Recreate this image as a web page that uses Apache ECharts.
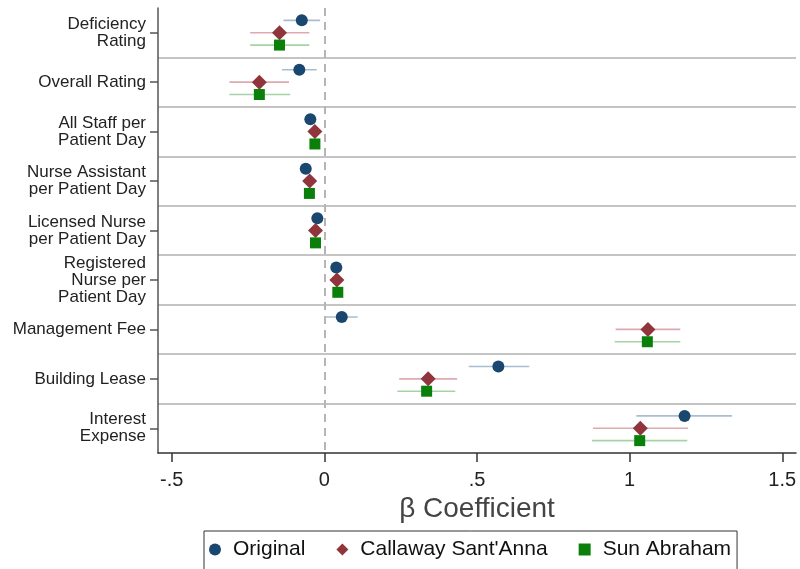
<!DOCTYPE html>
<html>
<head>
<meta charset="utf-8">
<script src="https://cdn.jsdelivr.net/npm/echarts@6/dist/echarts.min.js"></script>
<style>
html,body{margin:0;padding:0;background:#fff;}
#chart{width:800px;height:569px;}
</style>
</head>
<body>
<div id="chart"></div>
<script>
const categories = [
  "Deficiency\nRating",
  "Overall Rating",
  "All Staff per\nPatient Day",
  "Nurse Assistant\nper Patient Day",
  "Licensed Nurse\nper Patient Day",
  "Registered\nNurse per\nPatient Day",
  "Management Fee",
  "Building Lease",
  "Interest\nExpense"
];
const seriesNames = ["Original", "Callaway Sant'Anna", "Sun Abraham"];

const origEst = [-0.074, -0.082, -0.046, -0.061, -0.023, 0.039, 0.057, 0.570, 1.180];
const origLo  = [-0.134, -0.139, -0.064, -0.076, -0.037, 0.025, 0.002, 0.473, 1.022];
const origHi  = [-0.014, -0.025, -0.028, -0.046, -0.009, 0.053, 0.109, 0.671, 1.335];

const csEst = [-0.147, -0.213, -0.031, -0.048, -0.029, 0.041, 1.060, 0.340, 1.035];
const csLo  = [-0.243, -0.311, -0.046, -0.062, -0.043, 0.027, 0.954, 0.245, 0.880];
const csHi  = [-0.049, -0.116, -0.016, -0.034, -0.015, 0.055, 1.166, 0.435, 1.191];

const saEst = [-0.147, -0.213, -0.031, -0.049, -0.029, 0.044, 1.058, 0.335, 1.033];
const saLo  = [-0.243, -0.311, -0.046, -0.063, -0.043, 0.030, 0.951, 0.239, 0.877];
const saHi  = [-0.049, -0.112, -0.016, -0.035, -0.015, 0.058, 1.166, 0.429, 1.189];

const xTickValues = [-0.5, 0, 0.5, 1, 1.5];
const xTickLabels = ["-.5", "0", ".5", "1", "1.5"];

const FONT = "'Liberation Sans', Arial, sans-serif";
const colors = ["#1a476f", "#90353b", "#0a800a"];
const ciColors = ["#a9bdd1", "#dcaab0", "#a6d3a6"];
const offsets = [0.25, 0.5, 0.75];
const symbols = ["circle", "diamond", "rect"];
const symbolSizes = [12, 15, 11];

const groups = [
  {est: origEst, lo: origLo, hi: origHi},
  {est: csEst, lo: csLo, hi: csHi},
  {est: saEst, lo: saLo, hi: saHi}
];

const series = [];
groups.forEach((g, k) => {
  series.push({
    name: seriesNames[k] + " CI",
    type: "custom",
    xAxisIndex: 0,
    yAxisIndex: 1,
    z: 2,
    silent: true,
    renderItem: function (params, api) {
      const y = api.value(2);
      const p1 = api.coord([api.value(0), y]);
      const p2 = api.coord([api.value(1), y]);
      return {
        type: "line",
        shape: {x1: p1[0], y1: p1[1], x2: p2[0], y2: p2[1]},
        style: {stroke: ciColors[k], lineWidth: 1.6}
      };
    },
    encode: {x: [0, 1], y: 2},
    data: g.lo.map((v, i) => [v, g.hi[i], i + offsets[k]])
  });
});
groups.forEach((g, k) => {
  const s = {
    name: seriesNames[k],
    type: "scatter",
    xAxisIndex: 0,
    yAxisIndex: 1,
    z: 3 + k,
    symbol: symbols[k],
    symbolSize: symbolSizes[k],
    itemStyle: {color: colors[k], opacity: 1},
    data: g.est.map((v, i) => [v, i + offsets[k]])
  };
  if (k === 0) {
    s.markLine = {
      silent: true,
      symbol: "none",
      label: {show: false},
      lineStyle: {type: [8, 6], color: "#b5b5b5", width: 2},
      data: [{xAxis: 0}]
    };
  }
  series.push(s);
});

const chart = echarts.init(document.getElementById("chart"));
chart.setOption({
  animation: false,
  backgroundColor: "#fff",
  textStyle: {fontFamily: FONT},
  grid: {left: 158, right: 4, top: 8, bottom: 116},
  legend: {
    data: seriesNames.map((n, k) => ({name: n, icon: symbols[k]})),
    left: 204,
    top: 531,
    padding: [8, 6, 14, 5],
    itemWidth: 12,
    itemHeight: 12,
    itemGap: 31,
    borderColor: "#333",
    borderWidth: 1,
    textStyle: {fontFamily: FONT, fontSize: 21, color: "#111", padding: [0, 0, 0, 7]}
  },
  xAxis: {
    type: "value",
    min: -0.545,
    max: 1.545,
    name: "\u03b2 Coefficient",
    nameLocation: "middle",
    nameGap: 38,
    nameTextStyle: {fontFamily: FONT, fontSize: 28, color: "#444"},
    axisLine: {show: true, onZero: false, lineStyle: {color: "#333", width: 1.5}},
    axisTick: {show: true, length: 9, lineStyle: {color: "#333", width: 1.5}, customValues: xTickValues},
    axisLabel: {
      fontFamily: FONT, fontSize: 20, color: "#222", margin: 17,
      customValues: xTickValues,
      formatter: function (v) {
        const idx = xTickValues.findIndex(t => Math.abs(t - v) < 1e-9);
        return idx >= 0 ? xTickLabels[idx] : "";
      }
    },
    splitLine: {show: false}
  },
  yAxis: [
    {
      type: "category",
      data: categories,
      inverse: true,
      position: "left",
      axisLine: {show: true, onZero: false, lineStyle: {color: "#555", width: 1.5}},
      axisTick: {show: true, alignWithLabel: true, length: 8, lineStyle: {color: "#555", width: 1.5}},
      axisLabel: {fontFamily: FONT, fontSize: 17, color: "#222", margin: 12, align: "right", lineHeight: 17},
      splitLine: {show: false}
    },
    {
      type: "value",
      min: 0,
      max: 9,
      interval: 1,
      inverse: true,
      show: true,
      position: "left",
      axisLine: {show: false, onZero: false},
      axisTick: {show: false},
      axisLabel: {show: false},
      splitLine: {show: true, showMinLine: false, showMaxLine: false, lineStyle: {color: "#c4c4c4", width: 2}}
    }
  ],
  series: series
});
</script>
</body>
</html>
